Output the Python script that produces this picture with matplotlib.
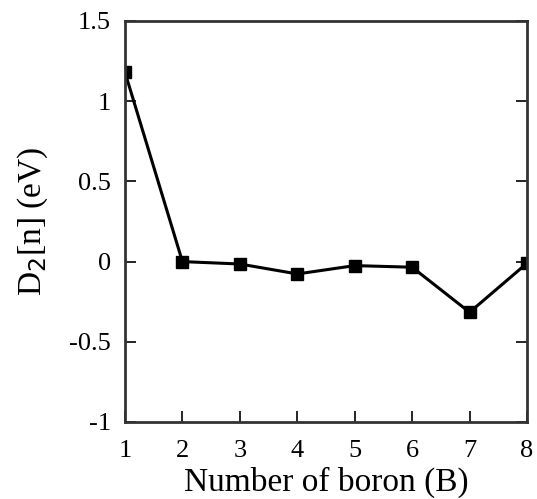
import numpy as np
from matplotlib import pyplot

n_boron  = [1, 2, 3, 4, 5, 6, 7, 8]
d2       = [1.18, 0.0, -0.015, -0.077, -0.025, -0.035, -0.316, -0.01]
yticks   = [-1, -0.5, 0, 0.5, 1, 1.5]
ylabels  = ['-1', '-0.5', '0', '0.5', '1', '1.5']

pyplot.rcParams['font.family'] = 'Liberation Serif'

fig = pyplot.figure(figsize=(5.37, 4.99), dpi=100)
ax = fig.add_axes([125/537, 77/499, 402/537, 401/499])
ax.plot(n_boron, d2, 'k-', lw=2.2, marker='s', ms=8)
ax.set_xlim(1, 8)
ax.set_ylim(-1, 1.5)
ax.set_xticks(n_boron)
ax.set_yticks(yticks)
ax.set_yticklabels(ylabels)
ax.tick_params(direction='in', length=8, width=1.2, labelsize=19, right=True, top=False, pad=10)
ax.tick_params(axis='x', pad=13)
for s in ax.spines.values():
	s.set_linewidth(2)
	s.set_color('#333333')
ax.set_xlabel('Number of boron (B)', size=24, labelpad=3)
ax.set_ylabel(r'D$_2$[n] (eV)', size=24, labelpad=14)
fig.savefig('out.png', dpi=100)
